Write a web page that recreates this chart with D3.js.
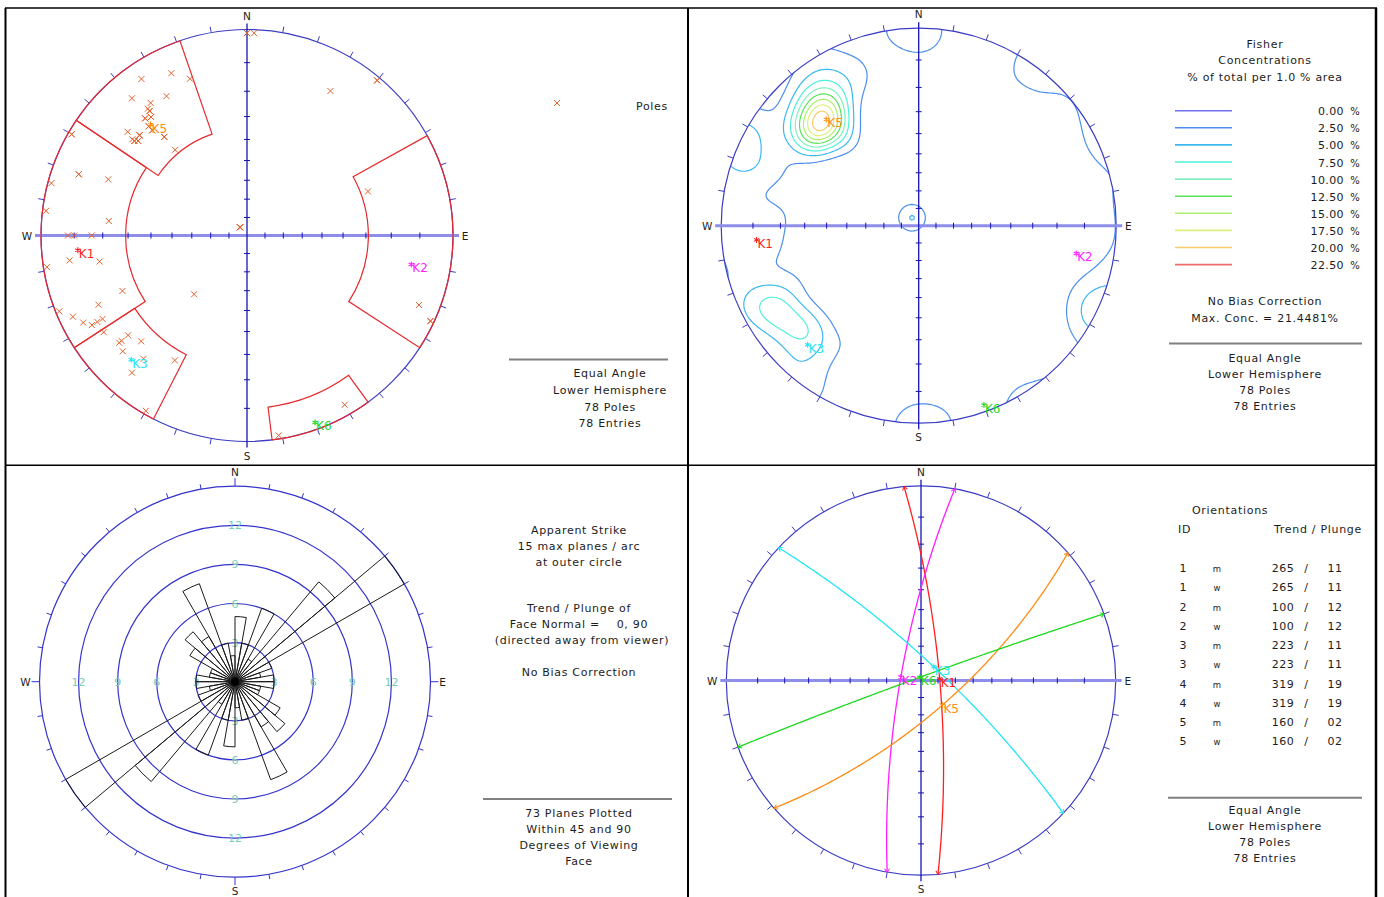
<!DOCTYPE html>
<html>
<head>
<meta charset="utf-8">
<script src="https://cdn.jsdelivr.net/npm/d3@7"></script>
<style>
  body { margin: 0; background: #fff; }
  svg text { font-family: "DejaVu Sans", sans-serif; fill: #1c1c1c; }
</style>
</head>
<body>
<svg id="chart" width="1384" height="897"></svg>
<script>
// ---------------- data ----------------
// Poles to joint planes (trend / plunge, degrees). The last entries coincide with earlier ones.
const poleTrend = [0,2,335,340,326,330,320,324,322,322,321,319,318,318,311,320,313,310,310,311,
  320,300,290,292,285,277,276,320,270,270,270,30,262,260,261,246,222,245,248,245,
  242,240,240,240,236,230,230,230,225,227,220,220,210,210,171,150,40,70,112,115,
  318,313,313,311,310,319,321,322,320,318,300,290,320,320,320,0,40,115];
const polePlunge = [1,1,8,12,5,14,8,13,14,15,17,16,19,21,15,26,19,18,19,20,
  33,1,8,18,1,1,22,84,8,10,16,12,8,18,1,23,48,13,1,4,
  6,8,10,12,10,12,13,16,18,11,14,8,20,1,1,3,1,26,6,1,
  21,19,19,20,19,16,17,15,26,19,1,8,84,84,84,1,1,1];

// Mean set orientations (pole trend / plunge)
const setIds = [1, 2, 3, 4, 5];
const setLabels = ["K1", "K2", "K3", "K5", "K6"];
const setTrend = [265, 100, 223, 319, 160];
const setPlunge = [11, 12, 11, 19, 2];
const setColors = ["#ff1e1e", "#ff1eff", "#22e6f2", "#ff8a14", "#1ed81e"];
const rowKinds = ["m", "w"];

// Set windows: trend range and plunge range (0..max)
const windowTrendFrom = [237, 61, 207, 304, 144];
const windowTrendTo = [304, 123, 237, 341, 173];
const windowPlungeMax = [29, 29, 24, 35, 10];

// Fisher concentration contour levels (% of total per 1.0 % area)
const contourLevels = [0, 2.5, 5, 7.5, 10, 12.5, 15, 17.5, 20, 22.5];
const contourColors = ["#7070f0", "#4c8ef0", "#3cb8f0", "#4ef0dc", "#80f0c0",
                       "#58e458", "#acf06c", "#dcf07c", "#f8cc6c", "#f06c6c"];
const fisherKappa = 80;
const maxConc = "21.4481%";

// Rose diagram of apparent strike: 10-degree bins over 0..180, mirrored
const roseBinStart = [0,10,20,30,40,50,60,70,80,90,100,110,120,130,140,150,160,170];
const roseCounts =   [5, 3, 6, 2,10,15, 3, 2, 3, 3,  2,  2,  4,  5,  4,  8,  3,  2];
const roseMax = 15;
const roseRings = [3, 6, 9, 12];

// ---------------- helpers ----------------
const svg = d3.select("#chart");
const defs = svg.append("defs");
const rad = d => d * Math.PI / 180;
const NET_BLUE = "#3c3cc4";
const AXIS_DARK = "#1414b4";
const AXIS_PALE = "#8e8eea";

function text(g, x, y, s, opt = {}) {
  return g.append("text")
    .attr("x", x).attr("y", y)
    .attr("text-anchor", opt.anchor || "middle")
    .attr("font-size", (opt.size || 11) + "px")
    .attr("letter-spacing", opt.ls == null ? "0.7px" : opt.ls)
    .style("fill", opt.color || "#1c1c1c")
    .text(s);
}

// Equal-angle (stereographic) lower-hemisphere net
function makeNet(cx, cy, R) {
  const rScale = d3.scaleLinear().domain([0, 1]).range([0, R]);
  const proj = (trend, plunge) => {
    const r = rScale(Math.tan(rad(90 - plunge) / 2));
    return [cx + r * Math.sin(rad(trend)), cy - r * Math.cos(rad(trend))];
  };
  const projVec = v => {
    const k = 1 / (1 + v[2]);
    return [cx + rScale(v[0] * k), cy - rScale(v[1] * k)];
  };
  return { cx, cy, R, rScale, proj, projVec };
}

function cardinal(g, cx, cy, R) {
  text(g, cx, cy - R - 10, "N", { size: 10.5, ls: "0px" });
  text(g, cx, cy + R + 18, "S", { size: 10.5, ls: "0px" });
  text(g, cx - R - 14, cy + 4, "W", { size: 10.5, ls: "0px" });
  text(g, cx + R + 12, cy + 4, "E", { size: 10.5, ls: "0px" });
}

function drawNet(g, net) {
  const { cx, cy, R } = net;
  g.append("circle").attr("cx", cx).attr("cy", cy).attr("r", R)
    .attr("fill", "none").attr("stroke", NET_BLUE).attr("stroke-width", 1.2);
  const az = d3.range(10, 360, 10).filter(a => a % 90 !== 0);
  g.selectAll(null).data(az).join("line")
    .attr("x1", a => cx + R * Math.sin(rad(a))).attr("y1", a => cy - R * Math.cos(rad(a)))
    .attr("x2", a => cx + (R + 6) * Math.sin(rad(a))).attr("y2", a => cy - (R + 6) * Math.cos(rad(a)))
    .attr("stroke", NET_BLUE).attr("stroke-width", 1);
  // E-W diameter
  g.append("line").attr("x1", cx - R - 6).attr("x2", cx + R + 6).attr("y1", cy).attr("y2", cy)
    .attr("stroke", AXIS_PALE).attr("stroke-width", 3);
  // N-S diameter
  g.append("line").attr("x1", cx).attr("x2", cx).attr("y1", cy - R - 6).attr("y2", cy + R + 6)
    .attr("stroke", AXIS_DARK).attr("stroke-width", 1.3);
  // 10-degree graduations along both diameters
  const grads = d3.range(1, 9).map(k => net.rScale(Math.tan(rad(5 * k))));
  const both = grads.flatMap(d => [d, -d]);
  g.selectAll(null).data(both).join("line")
    .attr("x1", d => cx + d).attr("x2", d => cx + d).attr("y1", cy - 3).attr("y2", cy + 3)
    .attr("stroke", AXIS_DARK).attr("stroke-width", 1);
  g.selectAll(null).data(both).join("line")
    .attr("y1", d => cy + d).attr("y2", d => cy + d).attr("x1", cx - 3).attr("x2", cx + 3)
    .attr("stroke", AXIS_DARK).attr("stroke-width", 1);
  cardinal(g, cx, cy, R);
}

function star(g, x, y, color) {
  g.append("path")
    .attr("d", `M${x},${y - 3}V${y + 3}M${x - 2.6},${y - 1.5}L${x + 2.6},${y + 1.5}M${x - 2.6},${y + 1.5}L${x + 2.6},${y - 1.5}`)
    .attr("stroke", color).attr("stroke-width", 1.1).attr("fill", "none");
}

function setMarkers(g, points) {
  points.forEach((p, i) => {
    star(g, p[0], p[1], setColors[i]);
    text(g, p[0] + 1, p[1] + 8, setLabels[i], { anchor: "start", size: 12, ls: "0px", color: setColors[i] });
  });
}

function xMark(g, x, y, color) {
  g.append("path").attr("d", `M${x - 3},${y - 3}L${x + 3},${y + 3}M${x - 3},${y + 3}L${x + 3},${y - 3}`)
    .attr("stroke", color).attr("stroke-width", 1).attr("fill", "none");
}

// Unit vectors (east, north, down) of the poles
const poleVecs = poleTrend.map((t, i) => {
  const p = rad(polePlunge[i]), tr = rad(t);
  return [Math.cos(p) * Math.sin(tr), Math.cos(p) * Math.cos(tr), Math.sin(p)];
});
// Fisher-weighted concentration (axial), in % of total
function densityAt(e, n, d) {
  let s = 0;
  for (const v of poleVecs) s += Math.exp(fisherKappa * (Math.abs(e * v[0] + n * v[1] + d * v[2]) - 1));
  return 100 * s / poleVecs.length;
}

// ---------------- frame ----------------
const frame = svg.append("g").attr("stroke", "#000");
frame.append("line").attr("x1", 5).attr("x2", 1377).attr("y1", 8).attr("y2", 8).attr("stroke-width", 1.5);
frame.append("line").attr("x1", 5.5).attr("x2", 5.5).attr("y1", 8).attr("y2", 897).attr("stroke-width", 2);
frame.append("line").attr("x1", 688).attr("x2", 688).attr("y1", 8).attr("y2", 897).attr("stroke-width", 2);
frame.append("line").attr("x1", 1376).attr("x2", 1376).attr("y1", 8).attr("y2", 897).attr("stroke-width", 2.5);
frame.append("line").attr("x1", 5).attr("x2", 1377).attr("y1", 465.3).attr("y2", 465.3).attr("stroke-width", 1.5);

// ---------------- poles with set windows ----------------
{
  const g = svg.append("g");
  const net = makeNet(247, 235.5, 206);
  drawNet(g, net);
  const winArc = d3.arc();
  windowTrendFrom.forEach((a, i) => {
    g.append("path")
      .attr("transform", `translate(${net.cx},${net.cy})`)
      .attr("d", winArc({
        innerRadius: net.rScale(Math.tan(rad(90 - windowPlungeMax[i]) / 2)),
        outerRadius: net.R,
        startAngle: rad(a), endAngle: rad(windowTrendTo[i])
      }))
      .attr("fill", "none").attr("stroke", "#e8282c").attr("stroke-width", 1.2);
  });
  poleTrend.forEach((t, i) => {
    const [x, y] = net.proj(t, polePlunge[i]);
    xMark(g, x, y, "#e4602a");
  });
  setMarkers(g, setTrend.map((t, i) => net.proj(t, setPlunge[i])));
  xMark(g, 557, 103, "#e4602a");
  text(g, 668, 110, "Poles", { anchor: "end" });
  g.append("line").attr("x1", 509).attr("x2", 668).attr("y1", 359.5).attr("y2", 359.5)
    .attr("stroke", "#808080").attr("stroke-width", 2);
  ["Equal Angle", "Lower Hemisphere", "78 Poles", "78 Entries"].forEach((s, i) =>
    text(g, 610, 377 + i * 16.8, s));
}

// ---------------- Fisher concentration contours ----------------
{
  const g = svg.append("g");
  const net = makeNet(918.7, 225.7, 197.5);
  const n = 240, ext = 1.2, step = 2 * ext / n;
  const values = new Float64Array(n * n);
  for (let j = 0; j < n; j++) {
    const Y = ext - (j + 0.5) * step;
    for (let i = 0; i < n; i++) {
      const X = -ext + (i + 0.5) * step;
      const r2 = X * X + Y * Y;
      values[i + j * n] = densityAt(2 * X / (1 + r2), 2 * Y / (1 + r2), (1 - r2) / (1 + r2));
    }
  }
  const contours = d3.contours().size([n, n]).thresholds(contourLevels.slice(1))(values);
  const path = d3.geoPath(d3.geoIdentity()
    .scale(net.R * step)
    .translate([net.cx - ext * net.R, net.cy - ext * net.R]));
  defs.append("clipPath").attr("id", "net-clip")
    .append("circle").attr("cx", net.cx).attr("cy", net.cy).attr("r", net.R);
  g.append("g").attr("clip-path", "url(#net-clip)")
    .selectAll("path").data(contours).join("path")
    .attr("d", path)
    .attr("fill", "none")
    .attr("stroke", d => contourColors[contourLevels.indexOf(d.value)])
    .attr("stroke-width", 1.2);
  drawNet(g, net);
  setMarkers(g, setTrend.map((t, i) => net.proj(t, setPlunge[i])));

  text(g, 1265, 47.5, "Fisher");
  text(g, 1265, 64, "Concentrations");
  text(g, 1265, 80.5, "% of total per 1.0 % area");
  contourLevels.forEach((lv, i) => {
    const y = 110.7 + i * 17.1;
    g.append("line").attr("x1", 1175).attr("x2", 1232).attr("y1", y).attr("y2", y)
      .attr("stroke", contourColors[i]).attr("stroke-width", 1.6);
    text(g, 1344, y + 4.5, lv.toFixed(2), { anchor: "end", ls: "0.4px" });
    text(g, 1355, y + 4.5, "%", { ls: "0px", size: 10 });
  });
  text(g, 1265, 305, "No Bias Correction");
  text(g, 1265, 321.5, "Max. Conc. = " + maxConc);
  g.append("line").attr("x1", 1169).attr("x2", 1362).attr("y1", 343.5).attr("y2", 343.5)
    .attr("stroke", "#808080").attr("stroke-width", 2);
  ["Equal Angle", "Lower Hemisphere", "78 Poles", "78 Entries"].forEach((s, i) =>
    text(g, 1265, 361.5 + i * 16, s));
}

// ---------------- apparent strike rose ----------------
{
  const g = svg.append("g");
  const cx = 235, cy = 681.7, R = 195.5;
  const r = d3.scaleLinear().domain([0, roseMax]).range([0, R]);
  g.selectAll(null).data(roseRings.concat([roseMax])).join("circle")
    .attr("cx", cx).attr("cy", cy).attr("r", d => r(d))
    .attr("fill", "none").attr("stroke", "#3434cc").attr("stroke-width", 1.2);
  const az = d3.range(0, 360, 10);
  g.selectAll(null).data(az).join("line")
    .attr("x1", a => cx + R * Math.sin(rad(a))).attr("y1", a => cy - R * Math.cos(rad(a)))
    .attr("x2", a => cx + (R + (a % 90 === 0 ? 8 : 5)) * Math.sin(rad(a)))
    .attr("y2", a => cy - (R + (a % 90 === 0 ? 8 : 5)) * Math.cos(rad(a)))
    .attr("stroke", "#3434cc").attr("stroke-width", 1);
  roseRings.forEach(v => {
    [[0, -1], [0, 1], [-1, 0], [1, 0]].forEach(([dx, dy]) =>
      text(g, cx + dx * r(v), cy + dy * r(v) + 4, String(v), { size: 11, ls: "0px", color: "#78ccb4" }));
  });
  const petal = d3.arc();
  const petals = roseBinStart.flatMap((b, i) => [
    { a0: b, c: roseCounts[i] }, { a0: b + 180, c: roseCounts[i] }]);
  g.selectAll(null).data(petals).join("path")
    .attr("transform", `translate(${cx},${cy})`)
    .attr("d", d => petal({ innerRadius: 0, outerRadius: r(d.c), startAngle: rad(d.a0), endAngle: rad(d.a0 + 10) }))
    .attr("fill", "none").attr("stroke", "#1a1a1a").attr("stroke-width", 1);
  g.append("circle").attr("cx", cx).attr("cy", cy).attr("r", 4).attr("fill", "#000");
  cardinal(g, cx, cy, R);

  text(g, 579, 533.5, "Apparent Strike");
  text(g, 579, 549.5, "15 max planes / arc");
  text(g, 579, 565.5, "at outer circle");
  text(g, 579, 612, "Trend / Plunge of");
  text(g, 579, 628, "Face Normal =    0, 90").style("white-space", "pre");
  text(g, 582, 644, "(directed away from viewer)");
  text(g, 579, 676, "No Bias Correction");
  g.append("line").attr("x1", 483).attr("x2", 672).attr("y1", 799).attr("y2", 799)
    .attr("stroke", "#808080").attr("stroke-width", 2);
  ["73 Planes Plotted", "Within 45 and 90", "Degrees of Viewing", "Face"].forEach((s, i) =>
    text(g, 579, 817 + i * 16, s));
}

// ---------------- mean planes (great circles) ----------------
{
  const g = svg.append("g");
  const net = makeNet(921, 680.5, 194.7);
  drawNet(g, net);
  setColors.forEach((c, i) => defs.append("marker")
    .attr("id", "tip" + i).attr("viewBox", "-5 -5 10 10")
    .attr("markerWidth", 10).attr("markerHeight", 10).attr("markerUnits", "userSpaceOnUse")
    .attr("orient", "auto-start-reverse")
    .append("path").attr("d", "M-3.5,-2.5L0,0L-3.5,2.5")
    .attr("fill", "none").attr("stroke", c).attr("stroke-width", 1));
  const line = d3.line();
  const dipPts = [];
  setTrend.forEach((t, i) => {
    const dd = t + 180, dip = 90 - setPlunge[i], s = dd - 90;
    const S = [Math.sin(rad(s)), Math.cos(rad(s)), 0];
    const D = [Math.cos(rad(dip)) * Math.sin(rad(dd)), Math.cos(rad(dip)) * Math.cos(rad(dd)), Math.sin(rad(dip))];
    const pts = d3.range(0, 180.01, 1).map(a => {
      const ca = Math.cos(rad(a)), sa = Math.sin(rad(a));
      return net.projVec([S[0] * ca + D[0] * sa, S[1] * ca + D[1] * sa, S[2] * ca + D[2] * sa]);
    });
    g.append("path").attr("d", line(pts)).attr("fill", "none")
      .attr("stroke", setColors[i]).attr("stroke-width", 1.3)
      .attr("marker-start", `url(#tip${i})`).attr("marker-end", `url(#tip${i})`);
    dipPts.push(net.proj(dd, dip));
  });
  setMarkers(g, dipPts);

  text(g, 1192, 513.5, "Orientations", { anchor: "start" });
  text(g, 1178, 532.5, "ID", { anchor: "start" });
  text(g, 1362, 532.5, "Trend / Plunge", { anchor: "end" });
  let row = 0;
  setIds.forEach((id, i) => {
    rowKinds.forEach(k => {
      const y = 572 + row * 19.25;
      text(g, 1183, y, String(id), { ls: "0px" });
      text(g, 1217, y, k, { size: 8.5, ls: "0px" });
      text(g, 1283, y, String(setTrend[i]).padStart(3, "0"), { ls: "0.5px" });
      text(g, 1306, y, "/", { ls: "0px" });
      text(g, 1335, y, String(setPlunge[i]).padStart(2, "0"), { ls: "0.5px" });
      row++;
    });
  });
  g.append("line").attr("x1", 1168).attr("x2", 1362).attr("y1", 797.7).attr("y2", 797.7)
    .attr("stroke", "#808080").attr("stroke-width", 2);
  ["Equal Angle", "Lower Hemisphere", "78 Poles", "78 Entries"].forEach((s, i) =>
    text(g, 1265, 813.5 + i * 16, s));
}
</script>
</body>
</html>
